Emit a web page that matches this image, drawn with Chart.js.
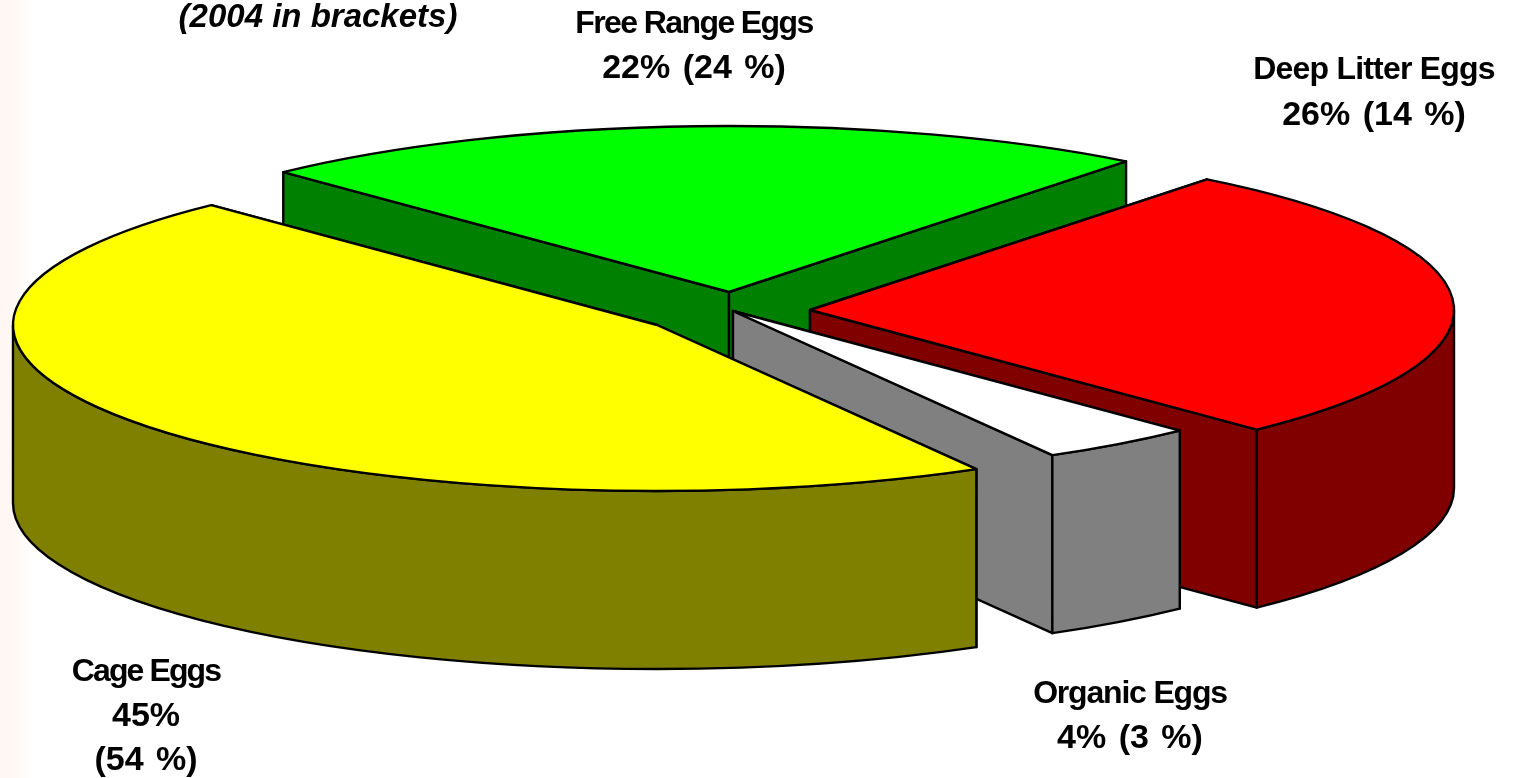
<!DOCTYPE html>
<html>
<head>
<meta charset="utf-8">
<script src="https://cdn.jsdelivr.net/npm/chart.js@4"></script>
<style>
  html, body { margin: 0; padding: 0; background: #fff; overflow: hidden; }
  #wrap { width: 1513px; height: 778px; background: linear-gradient(to right, #fff7f3 0, #fff7f3 12px, #fffcfa 22px, #fff 34px); }
  canvas { display: block; }
</style>
</head>
<body>
<div id="wrap"><canvas id="myChart" width="1513" height="778"></canvas></div>
<script>
const CATEGORIES = ['Free Range Eggs', 'Deep Litter Eggs', 'Organic Eggs', 'Cage Eggs'];
// printed percentages
const LABEL_2005 = [22, 26, 4, 45];
const LABEL_2004 = [24, 14, 3, 54];
// slice sizes as drawn in the picture, they are a little off the printed numbers
const SLICE_VALUES = [22.72, 27.2, 3.94, 46.05];
const NOTE = '(2004 in brackets)';

const TOP_COLORS = ['#00ff00', '#ff0000', '#ffffff', '#ffff00'];
const SIDE_COLORS = ['#008000', '#800000', '#808080', '#808000'];

// how far each slice is pulled out of the pie
const EXPLODE_X = [5, 86, 9, -67];
const EXPLODE_Y = [-21, -3, -2, 12];

const RADIUS = 644;
const SQUASH = 166 / 644;
const DEPTH = 178;

// label lines and where they sit
const LABEL_LINES = [
  [CATEGORIES[0], LABEL_2005[0] + '% (' + LABEL_2004[0] + ' %)'],
  [CATEGORIES[1], LABEL_2005[1] + '% (' + LABEL_2004[1] + ' %)'],
  [CATEGORIES[2], LABEL_2005[2] + '% (' + LABEL_2004[2] + ' %)'],
  [CATEGORIES[3], LABEL_2005[3] + '%', '(' + LABEL_2004[3] + ' %)']
];
const LABEL_X = [694, 1374, 1130, 146];
const LABEL_Y = [33, 79, 703, 681];
const LINE_GAP = [45, 46, 45, 44.5];
const NAME_SPACING = [-1.6, -0.8, -1.2, -1.9];

function drawSlice(ctx, arc, i) {
  const cx = arc.x + EXPLODE_X[i];
  const cy = arc.y + EXPLODE_Y[i];
  const rx = arc.outerRadius;
  const ry = rx * SQUASH;
  const a0 = arc.startAngle;
  const a1 = arc.endAngle;

  ctx.lineWidth = 2.4;
  ctx.lineJoin = 'round';
  ctx.strokeStyle = '#000';
  ctx.fillStyle = SIDE_COLORS[i];

  // the two cut faces
  [a0, a1].forEach((a) => {
    const px = cx + Math.cos(a) * rx;
    const py = cy + Math.sin(a) * ry;
    ctx.beginPath();
    ctx.moveTo(cx, cy);
    ctx.lineTo(px, py);
    ctx.lineTo(px, py + DEPTH);
    ctx.lineTo(cx, cy + DEPTH);
    ctx.closePath();
    ctx.fill();
    ctx.stroke();
  });

  // outer wall, only the part that faces the viewer
  const w0 = Math.max(a0, 0);
  const w1 = Math.min(a1, Math.PI);
  if (w1 > w0) {
    ctx.beginPath();
    ctx.ellipse(cx, cy, rx, ry, 0, w0, w1);
    ctx.ellipse(cx, cy + DEPTH, rx, ry, 0, w1, w0, true);
    ctx.closePath();
    ctx.fill();
    ctx.stroke();
  }

  // top face
  ctx.fillStyle = TOP_COLORS[i];
  ctx.beginPath();
  ctx.moveTo(cx, cy);
  ctx.ellipse(cx, cy, rx, ry, 0, a0, a1);
  ctx.closePath();
  ctx.fill();
  ctx.stroke();
}

function drawLabels(ctx) {
  ctx.fillStyle = '#000';
  ctx.textAlign = 'center';
  ctx.textBaseline = 'alphabetic';
  LABEL_LINES.forEach((lines, i) => {
    lines.forEach((line, n) => {
      // names are set tight in the picture, the number lines a bit wide
      ctx.font = n === 0 ? 'bold 32px "Liberation Sans"' : 'bold 34px "Liberation Sans"';
      ctx.letterSpacing = (n === 0 ? NAME_SPACING[i] : 0) + 'px';
      ctx.wordSpacing = (n === 0 ? 0 : 3) + 'px';
      ctx.fillText(line, LABEL_X[i], LABEL_Y[i] + n * LINE_GAP[i]);
    });
  });
  ctx.letterSpacing = '0px';
  ctx.wordSpacing = '0px';
  ctx.font = 'italic bold 33px "Liberation Sans"';
  ctx.fillText(NOTE, 318, 27);
}

const pie3d = {
  id: 'pie3d',
  beforeDatasetsDraw(chart) {
    const ctx = chart.ctx;
    const arcs = chart.getDatasetMeta(0).data;
    ctx.save();
    arcs.forEach((arc, i) => drawSlice(ctx, arc, i));
    drawLabels(ctx);
    ctx.restore();
    return false;
  }
};

const config = {
  type: 'pie',
  data: {
    labels: CATEGORIES,
    datasets: [{
      label: '%',
      data: SLICE_VALUES,
      backgroundColor: TOP_COLORS,
      radius: RADIUS
    }]
  },
  options: {
    responsive: false,
    animation: false,
    rotation: -43.8,
    // moves the pie centre to 724,313
    layout: { padding: { right: 65, bottom: 152 } },
    plugins: {
      legend: { display: false },
      tooltip: { enabled: false }
    }
  },
  plugins: [pie3d]
};

function buildChart() {
  const ctx = document.getElementById('myChart').getContext('2d');
  return new Chart(ctx, config);
}

window.addEventListener('load', () => {
  const myChart = buildChart();
});
</script>
</body>
</html>
